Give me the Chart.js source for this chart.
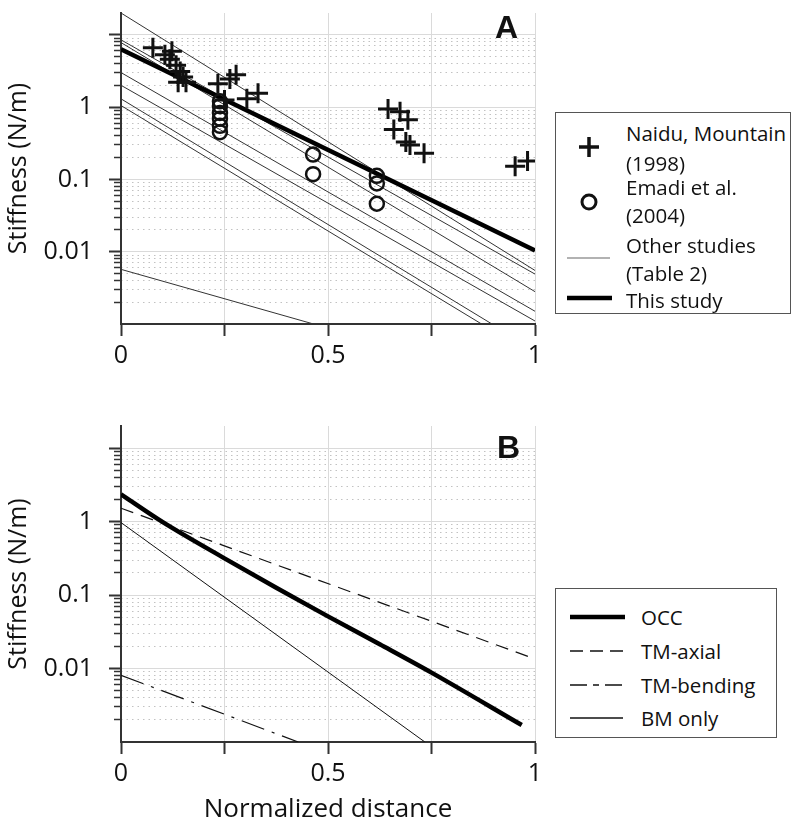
<!DOCTYPE html>
<html>
<head>
<meta charset="utf-8">
<title>Stiffness vs normalized distance</title>
<script src="https://cdn.jsdelivr.net/npm/chart.js@4.4.1/dist/chart.umd.min.js"></script>
<style>
  html, body { margin: 0; padding: 0; background: #fff; }
  body { width: 800px; height: 834px; position: relative; overflow: hidden; font-family: "Open Sans", sans-serif; color: #111; }
  canvas { position: absolute; left: 0; }
  #chartA { top: 0; }
  #chartB { top: 390px; }
  .tag { position: absolute; font: bold 32px "Liberation Sans", Arial, sans-serif; line-height: 32px; color: #111; }
  .legend { position: absolute; box-sizing: border-box; border: 1.5px solid #555; background: #fff; }
  .legend svg { position: absolute; left: 0; top: 0; }
  .legend .txt { position: absolute; font-size: 20.5px; line-height: 30px; white-space: nowrap; }
</style>
</head>
<body>
<canvas id="chartA" width="560" height="370"></canvas>
<canvas id="chartB" width="560" height="444"></canvas>
<div class="tag" style="left:495px;top:11px">A</div>
<div class="tag" style="left:497px;top:431px">B</div>

<div class="legend" style="left:555px;top:112px;width:236px;height:202px">
  <svg width="236" height="202">
    <path d="M23 34H43M33 24V44" stroke="#111" stroke-width="3.5" fill="none"/>
    <circle cx="33" cy="89" r="7" fill="none" stroke="#111" stroke-width="3"/>
    <path d="M11 145H54" stroke="#666" stroke-width="1.2" fill="none"/>
    <path d="M11 185H56" stroke="#000" stroke-width="4.5" fill="none"/>
  </svg>
  <div class="txt" style="left:70px;top:5px">Naidu, Mountain</div>
  <div class="txt" style="left:70px;top:35px">(1998)</div>
  <div class="txt" style="left:70px;top:59px">Emadi et al.</div>
  <div class="txt" style="left:70px;top:87px">(2004)</div>
  <div class="txt" style="left:70px;top:117px">Other studies</div>
  <div class="txt" style="left:70px;top:145px">(Table 2)</div>
  <div class="txt" style="left:70px;top:172px">This study</div>
</div>

<div class="legend" style="left:555px;top:588px;width:222px;height:150px">
  <svg width="222" height="150">
    <path d="M14 28H69" stroke="#000" stroke-width="4.5" fill="none"/>
    <path d="M14 62H67" stroke="#111" stroke-width="1.4" stroke-dasharray="13 7" fill="none"/>
    <path d="M14 96H67" stroke="#111" stroke-width="1.4" stroke-dasharray="17 6 6 6 17" fill="none"/>
    <path d="M14 129H67" stroke="#111" stroke-width="1.4" fill="none"/>
  </svg>
  <div class="txt" style="left:85px;top:13px">OCC</div>
  <div class="txt" style="left:85px;top:47px">TM-axial</div>
  <div class="txt" style="left:85px;top:81px">TM-bending</div>
  <div class="txt" style="left:85px;top:114px">BM only</div>
</div>

<script>
// ---- panel A: measured stiffness ----
const naiduX = [0.077, 0.106, 0.123, 0.118, 0.133, 0.143, 0.150, 0.138, 0.157, 0.234, 0.263, 0.278, 0.250, 0.304, 0.331,
                0.645, 0.674, 0.693, 0.659, 0.688, 0.698, 0.732, 0.952, 0.982];
const naiduY = [6.6, 5.3, 5.9, 4.6, 3.8, 3.1, 2.6, 2.2, 2.2, 2.1, 2.45, 2.8, 1.25, 1.3, 1.55,
                0.94, 0.86, 0.67, 0.49, 0.33, 0.30, 0.23, 0.152, 0.18];

const emadiX = [0.239, 0.239, 0.239, 0.239, 0.239, 0.239, 0.464, 0.464, 0.618, 0.618, 0.618];
const emadiY = [1.2, 1.03, 0.83, 0.69, 0.55, 0.45, 0.22, 0.118, 0.112, 0.088, 0.046];

// other studies (Table 2): start at x = 0, end where they leave the plot
const otherStartY = [20, 8.5, 7.8, 3.0, 2.0, 1.3, 1.05];
const otherEndX   = [1, 1, 1, 1, 1, 0.896, 0.871];
const otherEndY   = [0.0055, 0.0049, 0.0028, 0.0015, 0.0011, 0.001, 0.001];
const lowX = [0, 0.465];
const lowY = [0.0057, 0.001];

const studyX = [0, 1];
const studyY = [6.3, 0.0104];

// ---- panel B: model components ----
const occX = [0, 0.1, 0.25, 0.375, 0.5, 0.625, 0.75, 0.968];
const occY = [2.35, 0.99, 0.316, 0.126, 0.0513, 0.0214, 0.0088, 0.0017];
const axialX = [0, 1];
const axialY = [1.52, 0.0135];
const bendX = [0, 0.428];
const bendY = [0.0081, 0.001];
const bmX = [0, 0.734];
const bmY = [0.97, 0.001];

// ---- axes ----
const xTicks  = [0, 0.25, 0.5, 0.75, 1];
const xLabels = ['0', '', '0.5', '', '1'];
const yMajor  = [0.01, 0.1, 1, 10];
const yLabels = ['0.01', '0.1', '1', ''];
const yDecades = [0.001, 0.01, 0.1, 1];
const yMult = [2, 3, 4, 5, 6, 7, 8, 9];
const Y_MIN = 0.001, Y_MAX = 20;

const FONT = '"Open Sans", sans-serif';
const INK = '#111';
const AXIS = '#333';

const yMinor = [];
for (const d of yDecades) for (const m of yMult) yMinor.push(+(d * m).toPrecision(3));

const pts = (xs, ys) => xs.map((x, i) => ({ x, y: ys[i] }));

function line(data, width, color, dash) {
  return {
    data, showLine: true, yAxisID: 'y',
    borderColor: color, borderWidth: width, borderDash: dash || [],
    pointRadius: 0, pointHoverRadius: 0, tension: 0,
  };
}

function buildScales(xHeight, xTitle) {
  return {
    x: {
      type: 'linear', min: 0, max: 1,
      afterBuildTicks: s => { s.ticks = xTicks.map(v => ({ value: v })); },
      ticks: {
        callback: (v, i) => xLabels[i],
        autoSkip: false, maxRotation: 0, padding: 5,
        color: INK, font: { family: FONT, size: 25 },
      },
      grid: { color: '#dadada', lineWidth: 1, tickColor: AXIS, tickWidth: 2, tickLength: 12 },
      border: { color: AXIS, width: 2 },
      title: {
        display: !!xTitle, text: xTitle || '', color: INK,
        font: { family: FONT, size: 26 }, padding: { top: 0, bottom: 9 },
      },
      afterFit: s => { s.height = xHeight; s.paddingLeft = 0; s.paddingRight = 0; },
    },
    // minor decades: dotted grid + short ticks (sits next to the plot)
    yMinor: {
      type: 'logarithmic', min: Y_MIN, max: Y_MAX, position: 'left',
      afterBuildTicks: s => { s.ticks = yMinor.map(v => ({ value: v })); },
      ticks: { display: false },
      grid: { color: '#c2c2c2', lineWidth: 1, tickColor: AXIS, tickWidth: 1.5, tickLength: 7 },
      border: { display: false, dash: [1.5, 4] },
      afterFit: s => { s.width = 0; s.paddingTop = 0; s.paddingBottom = 0; },
    },
    y: {
      type: 'logarithmic', min: Y_MIN, max: Y_MAX, position: 'left',
      afterBuildTicks: s => { s.ticks = yMajor.map(v => ({ value: v })); },
      ticks: {
        callback: (v, i) => yLabels[i],
        autoSkip: false, padding: 16,
        color: INK, font: { family: FONT, size: 25 },
      },
      grid: { color: '#dadada', lineWidth: 1, tickColor: AXIS, tickWidth: 2, tickLength: 12 },
      border: { color: AXIS, width: 2 },
      title: {
        display: true, text: 'Stiffness (N/m)', color: INK,
        font: { family: FONT, size: 25 }, padding: { top: 4 },
      },
      afterFit: s => { s.width = 121; s.paddingTop = 0; s.paddingBottom = 0; },
    },
  };
}

function makeChart(id, datasets, padTop, xHeight, xTitle) {
  return new Chart(document.getElementById(id), {
    type: 'scatter',
    data: { datasets },
    options: {
      responsive: false,
      animation: false,
      devicePixelRatio: 1,
      layout: { padding: { top: padTop, right: 25, left: 0, bottom: 0 } },
      plugins: { legend: { display: false }, tooltip: { enabled: false } },
      scales: buildScales(xHeight, xTitle),
    },
  });
}

const dsA = [
  {
    label: 'Naidu, Mountain (1998)', data: pts(naiduX, naiduY), yAxisID: 'y', showLine: false,
    pointStyle: 'cross', pointRadius: 10, pointBorderWidth: 3, borderWidth: 3,
    borderColor: INK, backgroundColor: INK,
  },
  {
    label: 'Emadi et al. (2004)', data: pts(emadiX, emadiY), yAxisID: 'y', showLine: false,
    pointStyle: 'circle', pointRadius: 7, pointBorderWidth: 2.5, borderWidth: 2.5,
    borderColor: INK, backgroundColor: 'rgba(0,0,0,0)',
  },
  Object.assign(line(pts(studyX, studyY), 4.5, '#000'), { label: 'This study' }),
  ...otherStartY.map((y0, i) =>
    Object.assign(line([{ x: 0, y: y0 }, { x: otherEndX[i], y: otherEndY[i] }], 1, '#333'), { label: 'Other studies' })),
  Object.assign(line(pts(lowX, lowY), 1, '#333'), { label: 'Other studies' }),
];

const dsB = [
  Object.assign(line(pts(occX, occY), 4.5, '#000'), { label: 'OCC', cubicInterpolationMode: 'monotone' }),
  Object.assign(line(pts(axialX, axialY), 1.2, INK, [13, 8]), { label: 'TM-axial' }),
  Object.assign(line(pts(bendX, bendY), 1.2, INK, [24, 8, 3, 8]), { label: 'TM-bending' }),
  Object.assign(line(pts(bmX, bmY), 1, INK), { label: 'BM only' }),
];

makeChart('chartA', dsA, 4, 46, '');
makeChart('chartB', dsB, 36, 92, 'Normalized distance');
</script>
</body>
</html>
